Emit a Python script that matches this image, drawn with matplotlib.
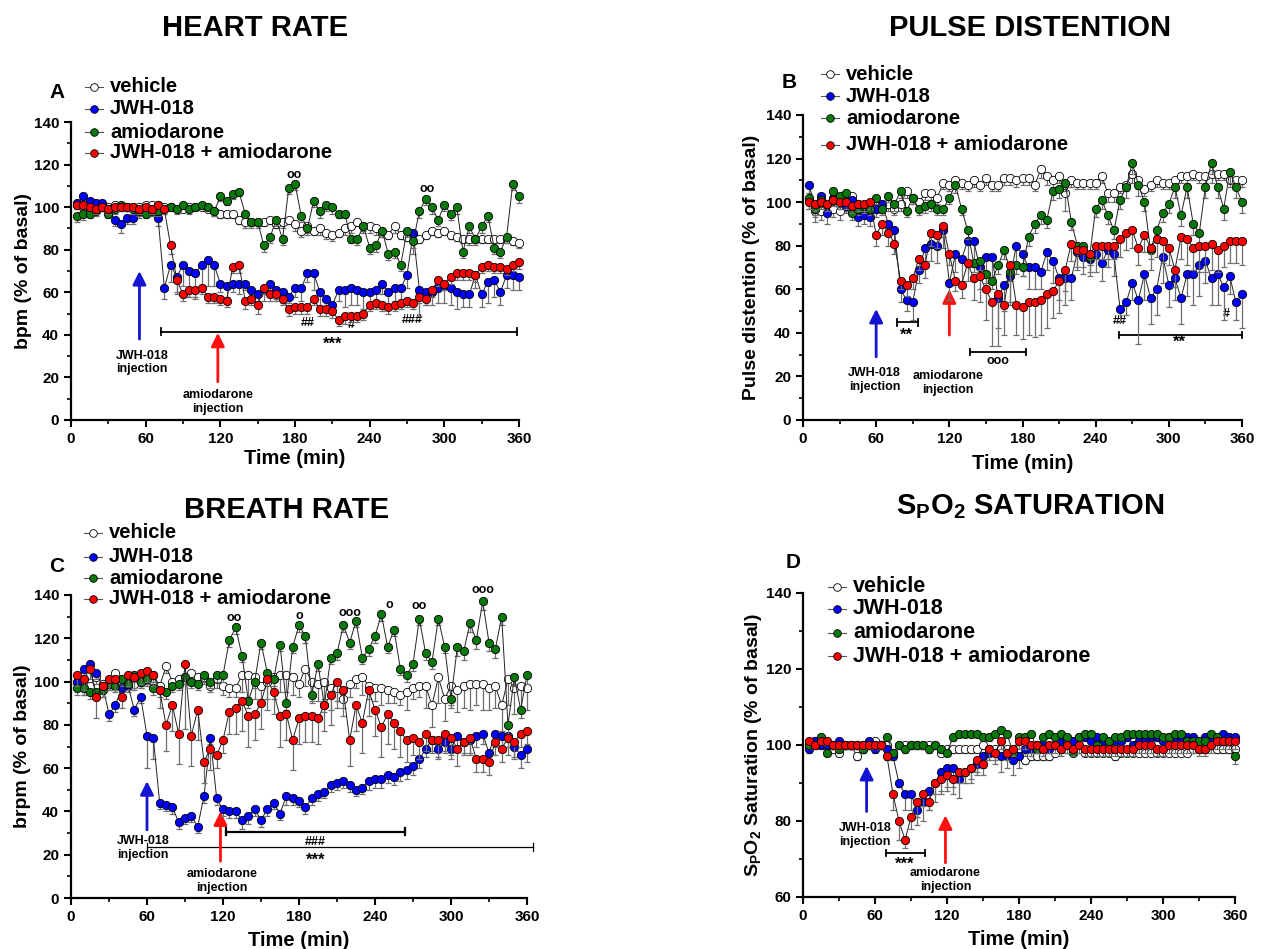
import numpy as np
import matplotlib
matplotlib.use('Agg')
import matplotlib.pyplot as plt
from matplotlib.lines import Line2D
from matplotlib.ticker import MultipleLocator

plt.rcParams['font.family'] = ['Liberation Sans', 'DejaVu Sans']
plt.rcParams['font.weight'] = 'bold'
plt.rcParams['axes.labelweight'] = 'bold'
plt.rcParams['mathtext.fontset'] = 'custom'
plt.rcParams['mathtext.rm'] = 'Liberation Sans:bold'
plt.rcParams['mathtext.it'] = 'Liberation Sans:bold'
plt.rcParams['mathtext.bf'] = 'Liberation Sans:bold'
plt.rcParams['mathtext.default'] = 'rm'

# time points (min), one reading every 5 min
time = np.arange(5, 365, 5)

groups = ['vehicle', 'JWH-018', 'amiodarone', 'JWH-018 + amiodarone']

# ---------------- heart rate (bpm, % of basal) ----------------
hr_vehicle = [101, 100, 100, 99, 100, 100, 101, 100, 100, 100, 100, 101,
              101, 101, 100, 100, 99, 99, 100, 100, 100, 99, 98, 97,
              97, 97, 94, 93, 93, 93, 93, 94, 92, 93, 94, 92,
              89, 91, 89, 90, 88, 87, 88, 90, 91, 93, 91, 91,
              90, 88, 87, 91, 87, 86, 87, 85, 87, 89, 88, 89,
              87, 86, 85, 85, 85, 85, 85, 85, 85, 85, 84, 83]
hr_jwh = [102, 105, 103, 102, 102, 99, 94, 92, 95, 95, 98, 99,
          99, 95, 62, 73, 67, 73, 70, 69, 73, 75, 73, 64,
          63, 64, 64, 64, 61, 59, 61, 64, 61, 60, 58, 62,
          62, 69, 69, 60, 57, 54, 61, 61, 62, 61, 60, 60,
          61, 64, 60, 62, 62, 68, 88, 61, 60, 60, 62, 63,
          62, 60, 59, 59, 68, 59, 65, 66, 60, 68, 68, 67]
hr_amio = [96, 97, 97, 98, 100, 97, 99, 101, 100, 99, 98, 97,
           98, 98, 99, 100, 99, 101, 99, 100, 101, 100, 98, 105,
           103, 106, 107, 97, 93, 93, 82, 86, 94, 85, 109, 111,
           96, 90, 103, 98, 101, 100, 97, 97, 85, 85, 91, 81,
           82, 89, 78, 79, 73, 89, 84, 98, 104, 100, 94, 101,
           97, 100, 79, 91, 85, 91, 96, 81, 79, 86, 111, 105]
hr_combo = [101, 101, 100, 99, 100, 99, 100, 100, 100, 100, 99, 100,
            99, 101, 99, 82, 66, 59, 61, 61, 62, 58, 58, 57,
            56, 72, 73, 56, 57, 54, 62, 59, 59, 57, 52, 53,
            53, 53, 57, 52, 52, 51, 47, 49, 49, 49, 50, 54,
            55, 54, 53, 54, 55, 56, 55, 58, 57, 61, 66, 64,
            67, 69, 69, 69, 68, 72, 73, 72, 72, 71, 73, 74]
hr_vehicle_sem = [2, 2, 2, 1, 1, 1, 1, 1, 1, 1, 1, 1,
                  1, 1, 1, 1, 1, 1, 1, 1, 1, 1, 2, 2,
                  2, 2, 2, 3, 2, 2, 2, 2, 2, 3, 2, 3,
                  3, 3, 2, 3, 3, 3, 2, 3, 3, 2, 2, 3,
                  3, 2, 2, 3, 2, 2, 2, 2, 2, 2, 2, 2,
                  2, 2, 2, 3, 2, 2, 2, 2, 2, 2, 2, 2]
hr_jwh_sem = [2, 2, 2, 2, 2, 2, 3, 4, 3, 3, 3, 3,
              3, 4, 5, 8, 8, 10, 12, 12, 10, 12, 10, 4,
              5, 4, 5, 3, 4, 3, 5, 6, 4, 5, 3, 4,
              6, 4, 8, 8, 5, 3, 5, 8, 8, 7, 8, 7,
              6, 5, 6, 6, 6, 6, 10, 12, 6, 6, 7, 8,
              8, 8, 6, 6, 6, 6, 10, 8, 6, 6, 7, 6]
hr_amio_sem = [3, 3, 2, 2, 2, 2, 2, 2, 2, 2, 2, 2,
               2, 2, 2, 2, 2, 2, 2, 2, 2, 2, 2, 2,
               2, 2, 2, 2, 3, 3, 3, 3, 3, 3, 3, 3,
               3, 3, 3, 3, 3, 3, 2, 2, 2, 3, 3, 3,
               3, 3, 3, 3, 3, 3, 3, 3, 3, 3, 3, 3,
               3, 3, 3, 3, 3, 3, 3, 3, 3, 3, 3, 3]
hr_combo_sem = [2, 2, 2, 2, 2, 2, 2, 2, 2, 2, 2, 2,
                2, 2, 2, 4, 6, 3, 3, 3, 3, 3, 3, 3,
                3, 3, 4, 4, 3, 4, 3, 3, 3, 3, 3, 3,
                3, 3, 3, 3, 3, 3, 3, 4, 3, 3, 3, 3,
                3, 3, 3, 3, 3, 3, 3, 3, 3, 3, 3, 3,
                3, 3, 3, 3, 3, 3, 3, 3, 3, 3, 3, 3]

# ---------------- pulse distention (% of basal) ----------------
pd_vehicle = [101, 96, 96, 99, 97, 96, 100, 103, 99, 98, 98, 99,
              98, 99, 97, 99, 105, 102, 100, 104, 104, 102, 109, 108,
              110, 109, 108, 110, 108, 111, 108, 108, 111, 111, 110, 111,
              111, 108, 115, 112, 110, 112, 104, 110, 109, 109, 109, 109,
              112, 104, 104, 107, 108, 113, 110, 106, 108, 110, 109, 109,
              110, 112, 112, 113, 112, 112, 113, 113, 113, 110, 110, 110]
pd_jwh = [108, 97, 103, 95, 102, 100, 98, 101, 93, 94, 93, 97,
          99, 90, 87, 60, 55, 54, 69, 79, 81, 80, 87, 63,
          76, 74, 82, 82, 70, 75, 75, 56, 62, 66, 80, 76,
          70, 70, 68, 77, 73, 65, 65, 65, 77, 75, 74, 76,
          72, 78, 76, 51, 54, 63, 55, 67, 56, 60, 75, 62,
          65, 56, 67, 67, 71, 73, 65, 67, 61, 66, 54, 58]
pd_amio = [102, 97, 101, 99, 105, 103, 104, 95, 97, 98, 97, 102,
           97, 103, 99, 105, 96, 102, 97, 98, 99, 97, 97, 102,
           108, 97, 87, 72, 73, 67, 64, 71, 78, 68, 71, 70,
           84, 90, 94, 92, 105, 106, 109, 91, 80, 80, 75, 97,
           101, 94, 87, 101, 107, 118, 108, 100, 78, 87, 95, 99,
           107, 94, 107, 90, 86, 107, 118, 107, 97, 114, 107, 100]
pd_combo = [100, 99, 100, 99, 101, 100, 100, 98, 99, 99, 100, 85,
            90, 86, 81, 64, 62, 65, 74, 71, 86, 85, 89, 76,
            64, 62, 72, 65, 66, 60, 54, 58, 53, 71, 53, 52,
            54, 54, 55, 58, 59, 64, 69, 81, 78, 78, 76, 80,
            80, 80, 80, 83, 86, 87, 79, 85, 79, 83, 82, 79,
            69, 84, 83, 79, 80, 80, 81, 78, 80, 82, 82, 82]
pd_vehicle_sem = [4, 5, 4, 4, 4, 4, 4, 4, 4, 4, 4, 4,
                  3, 3, 3, 3, 3, 3, 3, 3, 3, 3, 3, 3,
                  3, 3, 3, 3, 3, 3, 3, 3, 3, 3, 3, 3,
                  3, 3, 4, 4, 3, 3, 8, 3, 3, 3, 3, 3,
                  3, 4, 4, 3, 3, 4, 4, 3, 3, 3, 3, 3,
                  3, 3, 3, 3, 3, 3, 4, 3, 3, 3, 3, 3]
pd_jwh_sem = [4, 4, 4, 5, 3, 3, 3, 3, 4, 4, 4, 4,
              4, 5, 5, 6, 5, 8, 6, 6, 8, 8, 8, 8,
              8, 10, 12, 12, 10, 15, 12, 22, 12, 12, 10, 10,
              10, 10, 8, 8, 10, 10, 12, 10, 8, 8, 8, 8,
              8, 8, 10, 6, 6, 8, 20, 12, 12, 12, 12, 10,
              10, 12, 10, 14, 14, 10, 12, 14, 15, 8, 8, 16]
pd_amio_sem = [3, 3, 3, 3, 3, 3, 3, 3, 3, 3, 3, 3,
               3, 3, 3, 3, 3, 3, 3, 3, 3, 3, 3, 3,
               4, 3, 4, 4, 4, 4, 4, 4, 4, 4, 4, 4,
               4, 4, 4, 4, 4, 4, 4, 4, 4, 4, 4, 4,
               4, 4, 4, 4, 5, 5, 5, 4, 4, 4, 4, 4,
               5, 5, 5, 5, 5, 5, 5, 5, 5, 5, 5, 5]
pd_combo_sem = [3, 3, 3, 3, 3, 3, 3, 3, 3, 3, 3, 5,
                5, 6, 5, 4, 5, 5, 5, 6, 6, 6, 5, 5,
                5, 6, 8, 10, 12, 14, 20, 16, 14, 18, 14, 15,
                15, 16, 16, 16, 12, 15, 10, 8, 8, 8, 8, 6,
                6, 6, 6, 8, 8, 8, 8, 8, 10, 8, 10, 8,
                8, 10, 12, 10, 12, 12, 12, 10, 10, 10, 10, 11]

# ---------------- breath rate (brpm, % of basal) ----------------
br_vehicle = [100, 97, 98, 102, 99, 100, 104, 101, 100, 99, 100, 102,
              103, 98, 107, 100, 101, 102, 104, 102, 102, 98, 101, 98,
              97, 97, 103, 103, 102, 98, 100, 102, 103, 103, 102, 99,
              106, 100, 99, 100, 97, 97, 92, 99, 101, 102, 98, 97,
              97, 96, 95, 94, 95, 97, 98, 98, 89, 102, 92, 98,
              96, 98, 99, 99, 99, 97, 98, 89, 101, 97, 98, 97]
br_jwh = [100, 106, 108, 104, 98, 85, 89, 97, 98, 87, 93, 75,
          74, 44, 43, 42, 35, 37, 38, 33, 47, 74, 46, 41,
          40, 40, 36, 38, 41, 36, 41, 44, 39, 47, 46, 45,
          42, 46, 48, 49, 52, 53, 54, 52, 50, 51, 54, 55,
          55, 57, 56, 58, 59, 61, 64, 69, 73, 69, 72, 69,
          75, 72, 73, 75, 76, 67, 76, 75, 75, 70, 66, 69]
br_amio = [97, 97, 95, 95, 96, 99, 98, 101, 99, 103, 100, 101,
           97, 96, 95, 98, 99, 102, 100, 99, 103, 100, 103, 103,
           119, 125, 112, 91, 100, 118, 104, 101, 117, 90, 116, 126,
           121, 94, 108, 89, 111, 113, 126, 118, 128, 111, 115, 121,
           131, 116, 124, 106, 103, 108, 129, 113, 109, 129, 116, 92,
           116, 114, 127, 119, 137, 118, 115, 130, 80, 102, 87, 103]
br_combo = [103, 101, 106, 93, 98, 101, 101, 93, 103, 102, 104, 105,
            103, 96, 80, 89, 76, 108, 75, 87, 63, 69, 66, 73,
            86, 88, 91, 84, 85, 90, 101, 95, 84, 85, 73, 83,
            84, 84, 83, 89, 94, 100, 96, 73, 89, 81, 96, 87,
            79, 85, 81, 77, 73, 74, 72, 76, 73, 73, 76, 74,
            69, 72, 74, 64, 64, 63, 72, 69, 74, 72, 76, 77]
br_vehicle_sem = [3, 3, 3, 3, 3, 3, 3, 3, 3, 3, 3, 3,
                  3, 3, 3, 3, 3, 3, 3, 3, 3, 3, 4, 4,
                  4, 4, 8, 10, 10, 6, 8, 10, 8, 8, 8, 6,
                  8, 10, 8, 8, 10, 6, 4, 6, 4, 8, 6, 6,
                  8, 6, 5, 5, 8, 5, 5, 10, 10, 12, 10, 10,
                  10, 10, 12, 10, 12, 10, 10, 12, 12, 12, 10, 10]
br_jwh_sem = [3, 3, 3, 3, 3, 3, 3, 3, 3, 3, 3, 15,
              10, 3, 3, 3, 3, 3, 3, 3, 3, 3, 3, 3,
              3, 3, 4, 4, 3, 3, 3, 3, 3, 4, 3, 3,
              3, 3, 3, 3, 3, 3, 3, 3, 3, 3, 4, 4,
              4, 4, 4, 4, 4, 4, 4, 4, 5, 5, 5, 5,
              5, 5, 6, 5, 5, 5, 6, 5, 5, 5, 6, 6]
br_amio_sem = [3, 3, 3, 3, 3, 3, 3, 3, 3, 3, 3, 3,
               3, 3, 3, 3, 3, 3, 3, 3, 3, 3, 3, 3,
               3, 3, 3, 3, 3, 3, 3, 3, 3, 3, 3, 3,
               3, 3, 3, 3, 3, 3, 3, 3, 3, 3, 3, 3,
               3, 3, 3, 3, 3, 3, 3, 3, 3, 3, 3, 3,
               4, 4, 4, 4, 4, 4, 4, 4, 4, 4, 4, 4]
br_combo_sem = [5, 5, 5, 10, 5, 5, 5, 5, 5, 5, 5, 5,
                5, 8, 12, 12, 14, 30, 14, 14, 10, 10, 6, 6,
                10, 12, 14, 14, 12, 12, 14, 10, 14, 12, 14, 12,
                12, 12, 12, 12, 14, 12, 12, 12, 12, 14, 12, 12,
                14, 14, 12, 12, 10, 8, 8, 8, 6, 8, 8, 8,
                8, 6, 8, 6, 6, 6, 6, 6, 8, 8, 6, 6]

# ---------------- SpO2 saturation (% of basal) ----------------
sp_vehicle = [100, 101, 101, 100, 99, 98, 100, 100, 97, 99, 100, 101,
              100, 100, 98, 100, 100, 100, 100, 100, 100, 100, 98, 99,
              99, 99, 99, 99, 99, 100, 99, 99, 99, 99, 99, 99,
              96, 97, 97, 97, 97, 98, 99, 99, 99, 99, 98, 98,
              98, 98, 98, 97, 98, 98, 98, 98, 98, 98, 98, 98,
              98, 98, 98, 98, 99, 99, 99, 100, 99, 99, 99, 99]
sp_jwh = [99, 101, 100, 100, 100, 101, 100, 100, 100, 100, 101, 99,
          100, 99, 97, 90, 87, 87, 83, 85, 88, 90, 93, 94,
          94, 91, 93, 94, 95, 97, 98, 98, 97, 97, 96, 97,
          99, 99, 100, 100, 99, 100, 101, 101, 101, 102, 102, 101,
          102, 101, 101, 101, 101, 102, 100, 101, 101, 102, 102, 101,
          102, 102, 102, 102, 102, 101, 102, 102, 101, 103, 102, 102]
sp_amio = [100, 100, 102, 98, 100, 99, 100, 100, 100, 99, 100, 100,
           100, 102, 98, 100, 99, 100, 100, 100, 99, 100, 99, 98,
           102, 103, 103, 103, 103, 102, 102, 103, 104, 103, 98, 102,
           102, 103, 99, 102, 103, 102, 103, 102, 98, 102, 103, 103,
           100, 102, 101, 102, 102, 103, 103, 103, 103, 103, 103, 102,
           102, 103, 103, 101, 101, 101, 101, 103, 102, 101, 101, 97]
sp_combo = [101, 100, 101, 101, 100, 100, 100, 100, 100, 100, 100, 100,
            100, 97, 87, 80, 75, 81, 85, 87, 85, 90, 91, 92,
            91, 93, 93, 94, 96, 95, 99, 98, 101, 98, 99, 101,
            101, 100, 100, 99, 100, 100, 99, 100, 99, 100, 99, 99,
            99, 99, 99, 99, 99, 99, 99, 100, 100, 100, 99, 99,
            100, 100, 100, 100, 100, 99, 99, 100, 101, 101, 101, 101]
sp_vehicle_sem = [1, 1, 1, 1, 1, 1, 1, 1, 1, 1, 1, 1,
                  1, 1, 1, 1, 1, 1, 1, 1, 1, 1, 1, 1,
                  1, 1, 1, 1, 1, 1, 1, 1, 1, 1, 1, 1,
                  1, 1, 1, 1, 1, 1, 1, 1, 1, 1, 1, 1,
                  1, 1, 1, 1, 1, 1, 1, 1, 1, 1, 1, 1,
                  1, 1, 1, 1, 1, 1, 1, 1, 1, 1, 1, 1]
sp_jwh_sem = [1, 1, 1, 1, 1, 1, 1, 1, 1, 1, 1, 1,
              1, 1, 1, 1, 4, 4, 4, 5, 5, 5, 5, 5,
              5, 5, 3, 4, 3, 3, 2, 3, 4, 3, 4, 3,
              2, 2, 2, 1, 1, 1, 1, 1, 1, 1, 1, 1,
              1, 1, 1, 1, 1, 1, 1, 1, 1, 1, 1, 1,
              1, 1, 1, 1, 1, 1, 1, 1, 1, 1, 1, 1]
sp_amio_sem = [1, 1, 1, 1, 1, 1, 1, 1, 1, 1, 1, 1,
               1, 1, 1, 1, 1, 1, 1, 1, 1, 1, 1, 1,
               1, 1, 1, 1, 1, 1, 1, 1, 1, 1, 1, 1,
               1, 1, 1, 1, 1, 1, 1, 1, 1, 1, 1, 1,
               1, 1, 1, 1, 1, 1, 1, 1, 1, 1, 1, 1,
               1, 1, 1, 1, 1, 1, 1, 1, 1, 1, 1, 2]
sp_combo_sem = [1, 1, 1, 1, 1, 1, 1, 1, 1, 1, 1, 1,
                1, 1, 4, 5, 2, 3, 4, 3, 2, 3, 4, 4,
                4, 3, 3, 3, 3, 3, 3, 2, 2, 2, 2, 2,
                2, 2, 2, 2, 2, 2, 2, 2, 2, 2, 2, 2,
                2, 2, 2, 2, 2, 2, 2, 2, 2, 2, 2, 2,
                2, 2, 2, 2, 2, 2, 2, 2, 2, 2, 2, 2]

W, H = 1278, 949
colors = ['white', '#0000ff', '#0b780b', '#ff0000']


def fig_xy(x, y):
    # pixel position (origin top-left) -> figure fraction
    return x / W, 1 - y / H


fig = plt.figure(figsize=(W / 100, H / 100), dpi=100)


def make_axes(rect_px, ymin, ymax, ylabel, xpad, ypad):
    x0, y0, x1, y1 = rect_px
    ax = fig.add_axes([x0 / W, 1 - y1 / H, (x1 - x0) / W, (y1 - y0) / H])
    ax.set_xlim(0, 360)
    ax.set_ylim(ymin, ymax)
    ax.set_xticks(range(0, 361, 60))
    ax.xaxis.set_minor_locator(MultipleLocator(30))
    ax.set_yticks(range(ymin, ymax + 1, 20))
    ax.yaxis.set_minor_locator(MultipleLocator(10))
    for s in ['top', 'right']:
        ax.spines[s].set_visible(False)
    for s in ['left', 'bottom']:
        ax.spines[s].set_linewidth(1.6)
    ax.tick_params(which='major', length=5, width=1.5, labelsize=11)
    ax.tick_params(which='minor', length=3, width=1.2)
    ax.set_xlabel('Time (min)', fontsize=14.5, labelpad=xpad)
    ax.set_ylabel(ylabel, fontsize=14, labelpad=ypad)
    for lab in ax.get_xticklabels() + ax.get_yticklabels():
        lab.set_fontweight('bold')
    return ax


def draw_series(ax, series, sems):
    for k, (y, e) in enumerate(zip(series, sems)):
        y = np.array(y, dtype=float)
        e = np.array(e, dtype=float)
        ax.errorbar(time, y, yerr=[e, np.zeros_like(e)], fmt='none',
                    ecolor='#6e6e6e', elinewidth=0.9, capsize=2.2,
                    capthick=0.9, zorder=2 + 2 * k, clip_on=False)
        ax.plot(time, y, '-', color='#222222', lw=0.7, marker='o', ms=6,
                mfc=colors[k], mec='black', mew=0.6, zorder=3 + 2 * k,
                clip_on=False)


def draw_legend(mx, tx, rows, size):
    for k, (name, ry) in enumerate(zip(groups, rows)):
        fx0, fy = fig_xy(mx - 9, ry)
        fx1, _ = fig_xy(mx + 9, ry)
        fig.add_artist(Line2D([fx0, fx1], [fy, fy], color='#555555', lw=0.8))
        fxm, _ = fig_xy(mx, ry)
        fig.add_artist(Line2D([fxm], [fy], marker='o', ms=5.5,
                              mfc=colors[k], mec='black', mew=0.6))
        tx_f, _ = fig_xy(tx, ry)
        fig.text(tx_f, fy, name, fontsize=size, fontweight='bold', va='center')


def bracket(ax, x0, x1, y, h, lw=1.3):
    ax.plot([x0, x1], [y, y], color='black', lw=lw, clip_on=False)
    ax.plot([x0, x0], [y - h, y + h], color='black', lw=lw, clip_on=False)
    ax.plot([x1, x1], [y - h, y + h], color='black', lw=lw, clip_on=False)


def arrow(ax, x, y0, y1, color):
    ax.annotate('', xy=(x, y1), xytext=(x, y0),
                arrowprops=dict(arrowstyle='-|>', color=color, lw=2,
                                mutation_scale=20, shrinkA=0, shrinkB=0))


def note(ax, x, y, s, size=9):
    ax.text(x, y, s, ha='center', va='center', fontsize=size,
            fontweight='bold', clip_on=False)


# ---------- A: heart rate ----------
axA = make_axes((71, 122, 519, 420), 0, 140, 'bpm (% of basal)', 2, 1)
draw_series(axA, [hr_vehicle, hr_jwh, hr_amio, hr_combo],
            [hr_vehicle_sem, hr_jwh_sem, hr_amio_sem, hr_combo_sem])
arrow(axA, 55, 38, 70, '#1414d2')
note(axA, 57, 27, 'JWH-018\ninjection')
arrow(axA, 118, 18, 41, '#ff1010')
note(axA, 118, 8.5, 'amiodarone\ninjection')
bracket(axA, 72, 358, 41.5, 1.8)
note(axA, 210, 35.5, '***', 12)
note(axA, 190, 45.5, '##')
note(axA, 225, 44.5, '#')
note(axA, 274, 47, '###')
note(axA, 179, 115, 'oo')
note(axA, 286, 108.5, 'oo')

# ---------- B: pulse distention ----------
axB = make_axes((803, 115, 1242, 420), 0, 140, 'Pulse distention (% of basal)', 6, 4)
draw_series(axB, [pd_vehicle, pd_jwh, pd_amio, pd_combo],
            [pd_vehicle_sem, pd_jwh_sem, pd_amio_sem, pd_combo_sem])
arrow(axB, 60, 29, 51, '#1414d2')
note(axB, 58.5, 18.5, 'JWH-018\ninjection')
arrow(axB, 120, 39, 60, '#ff1010')
note(axB, 119, 17, 'amiodarone\ninjection')
bracket(axB, 77, 94, 44.8, 1.5)
note(axB, 85, 39, '**', 12)
bracket(axB, 137, 183, 31.3, 1.5)
note(axB, 160, 27, 'ooo')
note(axB, 260, 45.5, '##')
note(axB, 347, 48.5, '#')
bracket(axB, 259, 360, 39, 1.5)
note(axB, 309, 35.5, '**', 12)

# ---------- C: breath rate ----------
axC = make_axes((71, 595, 527, 898), 0, 140, 'brpm (% of basal)', 5, 2)
draw_series(axC, [br_vehicle, br_jwh, br_amio, br_combo],
            [br_vehicle_sem, br_jwh_sem, br_amio_sem, br_combo_sem])
arrow(axC, 60, 31.5, 54, '#1414d2')
note(axC, 57, 23, 'JWH-018\ninjection')
arrow(axC, 118, 17, 40, '#ff1010')
note(axC, 119, 7.7, 'amiodarone\ninjection')
bracket(axC, 122, 264, 30.7, 1.8, lw=1.6)
note(axC, 193, 26, '###')
bracket(axC, 60, 365, 23.5, 1.8, lw=0.9)
note(axC, 193, 17.5, '***', 12)
note(axC, 129, 129.5, 'oo')
note(axC, 180, 130.5, 'o')
note(axC, 220, 131.5, 'ooo')
note(axC, 251, 135.5, 'o')
note(axC, 275, 135, 'oo')
note(axC, 325, 142.3, 'ooo')

# ---------- D: SpO2 saturation ----------
axD = make_axes((803, 593, 1235, 897), 60, 140,
                r'S$_\mathregular{P}$O$_\mathregular{2}$ Saturation (% of basal)', 5, 1)
draw_series(axD, [sp_vehicle, sp_jwh, sp_amio, sp_combo],
            [sp_vehicle_sem, sp_jwh_sem, sp_amio_sem, sp_combo_sem])
arrow(axD, 53, 82.5, 94.5, '#1414d2')
note(axD, 51.5, 76.4, 'JWH-018\ninjection')
arrow(axD, 118.7, 69, 81.5, '#ff1010')
note(axD, 118.7, 64.4, 'amiodarone\ninjection')
bracket(axD, 69.5, 102, 71.6, 0.7)
note(axD, 85, 68.6, '***', 12)

# titles and panel letters
for txt, (x, y) in [('HEART RATE', (255, 28)), ('PULSE DISTENTION', (1030, 28)),
                    ('BREATH RATE', (287, 510)),
                    (r'S$_\mathregular{P}$O$_\mathregular{2}$ SATURATION', (1030, 507))]:
    fx, fy = fig_xy(x, y)
    fig.text(fx, fy, txt, fontsize=21, fontweight='bold', ha='center', va='center')

for txt, (x, y) in [('A', (57, 92)), ('B', (789, 82)), ('C', (57, 567)), ('D', (793, 563))]:
    fx, fy = fig_xy(x, y)
    fig.text(fx, fy, txt, fontsize=15, fontweight='bold', ha='center', va='center')

# legends
draw_legend(94, 110, [87, 109, 132, 153], 14.5)
draw_legend(830, 846, [74, 96, 118, 145], 14.5)
draw_legend(93, 109, [533, 557, 578, 599], 14.5)
draw_legend(837, 853, [587, 609, 633, 656], 15.5)

fig.savefig('out.png', dpi=100)
